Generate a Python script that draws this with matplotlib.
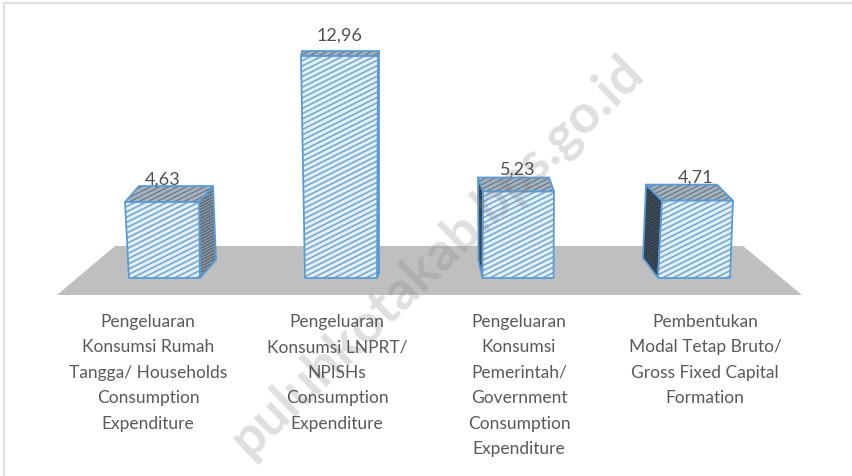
import matplotlib
matplotlib.use("Agg")
import matplotlib.pyplot as plt
import numpy as np
from matplotlib.patches import Polygon

categories = [
    "Pengeluaran\nKonsumsi Rumah\nTangga/ Households\nConsumption\nExpenditure",
    "Pengeluaran\nKonsumsi LNPRT/\nNPISHs\nConsumption\nExpenditure",
    "Pengeluaran\nKonsumsi\nPemerintah/\nGovernment\nConsumption\nExpenditure",
    "Pembentukan\nModal Tetap Bruto/\nGross Fixed Capital\nFormation",
]
values = [4.63, 12.96, 5.23, 4.71]
value_labels = ["4,63", "12,96", "5,23", "4,71"]

W, H = 852, 477
BASE_Y = 279
PX_PER_UNIT = 17.53
# the 3d floor hides a little of every bar
FLOOR_SINK = 5.2
FIRST_X = 162
STEP_X = 178

plt.rcParams["font.family"] = ["Lato", "DejaVu Sans"]


def px_x(v):
    return (v - FIRST_X) / STEP_X


def px_y(v):
    return (BASE_Y - v) / PX_PER_UNIT


def to_data(points):
    return [(px_x(x), px_y(y)) for x, y in points]


fig = plt.figure(figsize=(W / 100, H / 100), dpi=100)
ax = fig.add_axes([0, 0, 1, 1])
ax.set_xlim(px_x(0), px_x(W))
ax.set_ylim(px_y(H), px_y(0))
ax.axis("off")


def hatched(points, face, line, spacing, lw, z, edge="#5b9bd5", edge_lw=1.3):
    poly = Polygon(to_data(points), closed=True, facecolor=face, edgecolor="none", zorder=z)
    ax.add_patch(poly)
    xs = [p[0] for p in points]
    ys = [p[1] for p in points]
    x0, x1 = min(xs), max(xs)
    rise = 0.5 * (x1 - x0)
    # lines climb to the right at a shallow angle, clipped to the face
    for c in np.arange(min(ys), max(ys) + rise + spacing, spacing):
        l, = ax.plot([px_x(x0), px_x(x1)], [px_y(c), px_y(c - rise)],
                     color=line, lw=lw, zorder=z + 0.1)
        l.set_clip_path(poly)
    ax.add_patch(Polygon(to_data(points), closed=True, facecolor="none", edgecolor=edge,
                         lw=edge_lw, zorder=z + 0.2, joinstyle="round"))


# floor
ax.add_patch(Polygon(to_data([(57, 296), (115, 247), (743, 247), (802, 296)]), closed=True,
                     facecolor="#bfbfbf", edgecolor="none", zorder=1))

# frame of the chart
ax.plot([px_x(4), px_x(4)], [px_y(4), px_y(H)], color="#e0e0e0", lw=1.5, zorder=0.5)
ax.plot([px_x(4), px_x(W)], [px_y(4), px_y(4)], color="#e0e0e0", lw=1.5, zorder=0.5)

# front face shape and depth offset, read per bar
base_centre = [164.5, 341, 518, 694]
base_half = [35.5, 36, 35.5, 36]
top_centre = [162, 339.5, 518.5, 697.5]
top_half = [37, 38.5, 35.5, 35.5]
depth = [(14, -16), (1, -5), (-5, -14), (-16, -16)]
base_depth = [(16, -18), (2, -5), (-4, -17), (-15, -20)]
label_pos = [(163, 180), (339, 36), (518, 170), (695, 178)]

for i, v in enumerate(values):
    top = BASE_Y - v * PX_PER_UNIT + FLOOR_SINK
    fbl = (base_centre[i] - base_half[i], BASE_Y)
    fbr = (base_centre[i] + base_half[i], BASE_Y)
    ftl = (top_centre[i] - top_half[i], top)
    ftr = (top_centre[i] + top_half[i], top)
    dx, dy = depth[i]
    bdx, bdy = base_depth[i]
    btl = (ftl[0] + dx, top + dy)
    btr = (ftr[0] + dx, top + dy)
    if dx > 0:
        side = [ftr, btr, (fbr[0] + bdx, BASE_Y + bdy), fbr]
    else:
        side = [ftl, btl, (fbl[0] + bdx, BASE_Y + bdy), fbl]
    side_face = "#8896a4" if dx > 0 else "#3f4d5c"
    side_line = "#55636f" if dx > 0 else "#2d3843"
    hatched(side, side_face, side_line, 3.0, 0.8, 3)
    hatched([ftl, btl, btr, ftr], "#a5b3c1", "#6b7885", 4.5, 0.9, 3.5)
    hatched([fbl, ftl, ftr, fbr], "#e1f1fb", "#7ba7cf", 5.3, 1.2, 4)
    ax.text(px_x(label_pos[i][0]), px_y(label_pos[i][1]), value_labels[i], ha="center",
            va="center", fontsize=13, color="#505050", zorder=6)

# watermark sits under the labels and values but over the floor
ax.text(px_x(437), px_y(256), "puluhkotakab.bps.go.id", rotation=44, ha="center", va="center",
        fontsize=38.5, fontweight="bold", color="#808080", alpha=0.25, zorder=5,
        rotation_mode="anchor")

# category labels
label_x = [148, 337, 519, 705]
for i, name in enumerate(categories):
    for j, line in enumerate(name.split("\n")):
        ax.text(px_x(label_x[i]), px_y(322 + 25.4 * j), line, ha="center", va="center",
                fontsize=12.5, color="#595959", zorder=6)

fig.savefig("out.png", dpi=100)
